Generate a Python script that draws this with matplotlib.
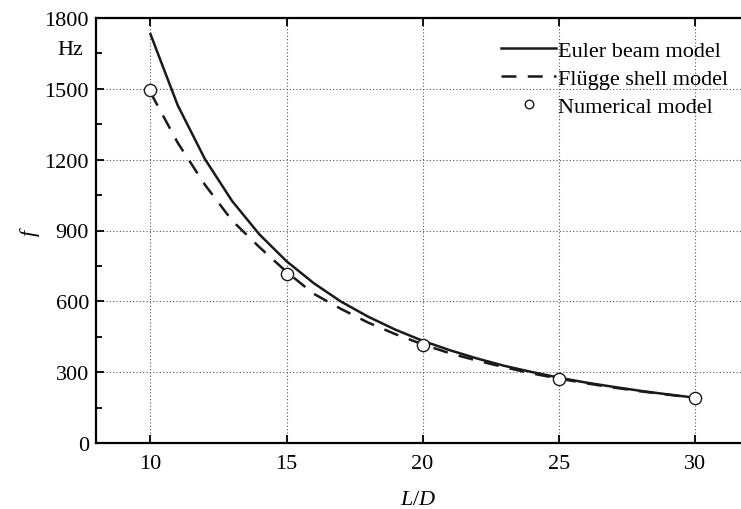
import numpy as np
import matplotlib
matplotlib.use("Agg")
import matplotlib.pyplot as plt
from matplotlib.ticker import MultipleLocator

plt.rcParams["font.family"] = ["Liberation Serif", "DejaVu Serif"]
plt.rcParams["mathtext.fontset"] = "custom"
plt.rcParams["mathtext.it"] = "Liberation Serif:italic"
plt.rcParams["mathtext.rm"] = "Liberation Serif"

# slenderness ratio L/D
ld = [10, 11, 12, 13, 14, 15, 16, 17, 18, 19, 20,
      21, 22, 23, 24, 25, 26, 27, 28, 29, 30]
# first natural frequency (Hz)
f_euler = [1732, 1431, 1203, 1025, 884, 770, 677, 599, 535, 480, 433,
           393, 358, 327, 301, 277, 256, 238, 221, 206, 192]
f_flugge = [1485, 1272, 1094, 942, 830, 725, 632, 568, 510, 461, 418,
            380, 349, 321, 295, 273, 253, 235, 219, 205, 191]
ld_num = [10, 15, 20, 25, 30]
f_num = [1495, 717, 414, 270, 190]

fig = plt.figure(figsize=(7.41, 5.10), dpi=100)
ax = fig.add_axes([96 / 741, 66 / 510, 1 - 96 / 741, 425 / 510])

ax.plot(ld, f_euler, color="#1a1a1a", lw=1.8, label="Euler beam model")
ax.plot(ld, f_flugge, color="#1a1a1a", lw=1.8, ls=(0, (6, 4.5)),
        label="Flügge shell model")
ax.plot(ld_num, f_num, ls="none", marker="o", ms=8.8, mfc="white",
        mec="#1a1a1a", mew=1.0, label="Numerical model", zorder=5)

ax.set_xlim(8, 31.7)
ax.set_ylim(0, 1800)
ax.xaxis.set_major_locator(MultipleLocator(5))
ax.yaxis.set_major_locator(MultipleLocator(300))
ax.yaxis.set_minor_locator(MultipleLocator(150))
ax.tick_params(which="both", direction="in", top=True, right=False,
               labelsize=16, width=1.3)
ax.tick_params(which="major", length=6)
ax.tick_params(which="minor", length=4)
ax.tick_params(axis="x", pad=8)
ax.tick_params(axis="y", pad=5)
ax.grid(True, which="major", ls=(0, (1, 2)), color="#555555", lw=0.8)
for side in ("left", "bottom", "top"):
    ax.spines[side].set_linewidth(1.6)
ax.spines["right"].set_visible(False)

ax.set_xlabel("$L/D$", fontsize=16, labelpad=12)
fig.text(30 / 741, 1 - 232 / 510, "$f$", fontsize=16, rotation=90,
         ha="center", va="center")
ax.text(-0.02, 1665, "Hz", fontsize=16, ha="right", va="center",
        transform=ax.get_yaxis_transform())

ax.legend(loc="upper right", frameon=False, fontsize=16, handlelength=2.45,
          handletextpad=0.1, labelspacing=0.33, markerscale=0.7,
          borderaxespad=0.0, bbox_to_anchor=(0.994, 0.968))

fig.savefig("out.png", dpi=100)
